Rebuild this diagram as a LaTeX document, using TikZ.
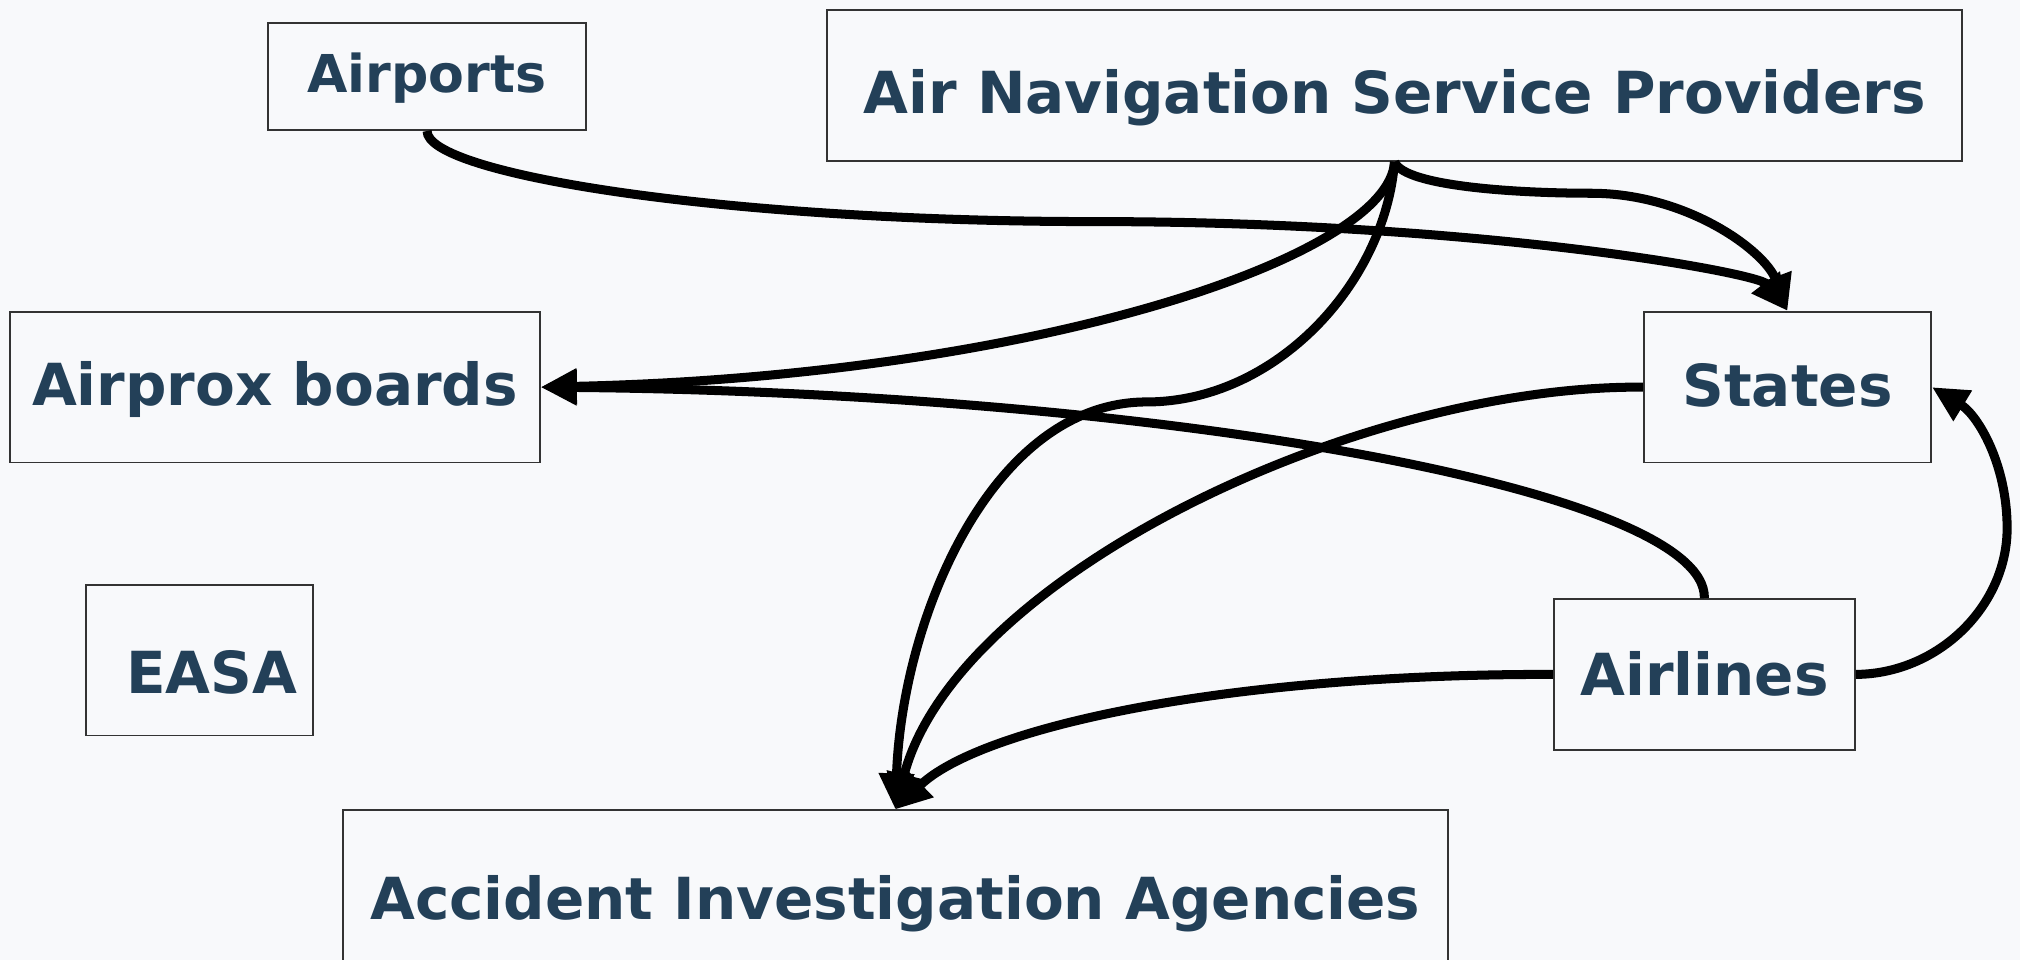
\documentclass[tikz,border=0pt]{standalone}
\usepackage{fontspec}
\setmainfont{DejaVu Sans}
\usetikzlibrary{arrows.meta}
\definecolor{bg}{HTML}{F8F9FB}
\definecolor{txt}{HTML}{234058}
\definecolor{frame}{HTML}{333333}
\tikzset{
  box/.style={draw=frame, line width=1.3pt, fill=bg, inner sep=0pt, text=txt,
    font=\fontsize{45}{54}\selectfont\bfseries, text height=32.8pt, text depth=0pt,
    minimum height=117pt},
  link/.style={line width=7pt, draw=black,
    -{Triangle[length=28pt,width=26pt]}}
}
\begin{document}
\begin{tikzpicture}[x=1pt,y=-1pt]
\fill[bg] (0,0) rectangle (1568,745);
\useasboundingbox (0,0) rectangle (1568,745);

\node[box, minimum width=247pt, minimum height=83pt,
  font=\fontsize{40.5}{48}\selectfont\bfseries, text height=29.5pt] (airports) at (331.5,59.5) {\raisebox{2.5pt}{Airports}};
\node[box, minimum width=881pt] (ansp) at (1082.5,66.5) {\raisebox{-5.5pt}{Air Navigation Service Providers}};
\node[box, minimum width=411pt] (airprox) at (213.5,300.5) {\raisebox{2.5pt}{Airprox boards}};
\node[box, minimum width=223pt] (states) at (1387.5,300.5) {\raisebox{1pt}{States}};
\node[box, minimum width=176pt] (easa) at (155,512.5) {\hspace*{19pt}\raisebox{-9.5pt}{EASA}};
\node[box, minimum width=234pt] (airlines) at (1323,523.5) {Airlines};
\node[box, minimum width=858pt] (aia) at (695,687.5) {\raisebox{-10pt}{Accident Investigation Agencies}};

\draw[link] (airports.south) .. controls (331,135) and (560,172) .. (850,172)
  .. controls (1150,172) and (1365,212) .. (states.north);
\draw[link] (ansp.south) .. controls (1090,145) and (1180,150) .. (1235,150)
  .. controls (1310,150) and (1370,195) .. (states.north);
\draw[link] (ansp.south) .. controls (1078,200) and (800,292) .. (airprox.east);
\draw[link] (ansp.south) .. controls (1075,220) and (990,312) .. (890,312)
  .. controls (770,312) and (700,480) .. (aia.north);
\draw[link] (states.west) .. controls (1050,299) and (740,450) .. (aia.north);
\draw[link] (airlines.west) .. controls (950,523) and (760,565) .. (aia.north);
\draw[link] (airlines.north) .. controls (1325,380) and (900,305) .. (airprox.east);
\draw[link] (airlines.east) .. controls (1505,523) and (1558,470) .. (1558,410)
  .. controls (1558,360) and (1535,322) .. (states.east);
\end{tikzpicture}
\end{document}
